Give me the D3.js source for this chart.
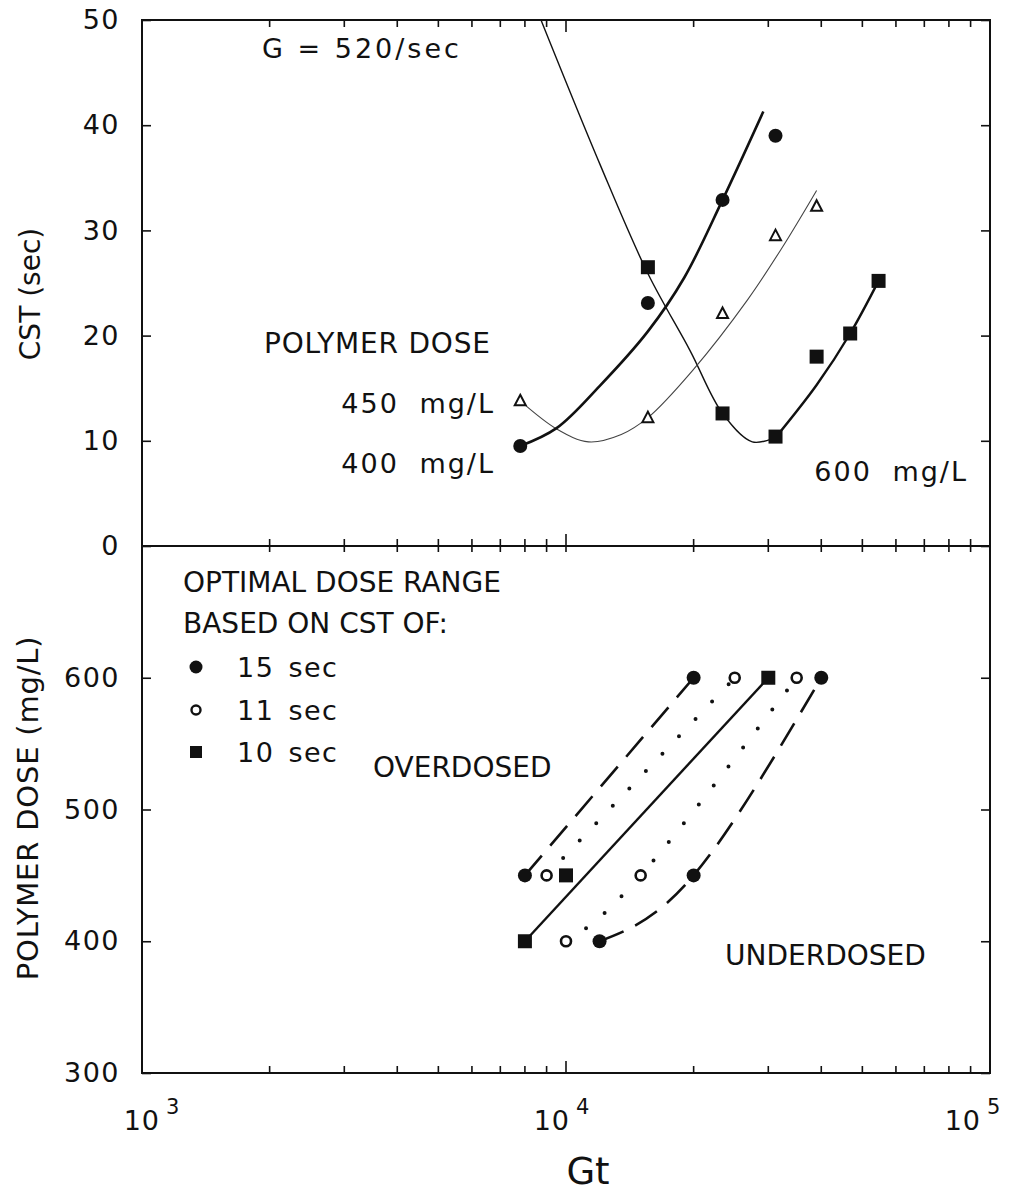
<!DOCTYPE html>
<html>
<head>
<meta charset="utf-8">
<script src="https://cdn.jsdelivr.net/npm/d3@7"></script>
<style>
  body { margin: 0; background: #fff; }
  text { font-family: "DejaVu Sans", sans-serif; fill: #111; }
</style>
</head>
<body>
<div id="chart"></div>
<script>
// ---- top panel: CST vs Gt at G = 520/sec, one series per polymer dose
var gt400 = [7800, 15600, 23400, 31200],
    cst400 = [9.5, 23.1, 32.9, 39.0];
var gt450 = [7800, 15600, 23400, 31200, 39000],
    cst450 = [13.8, 12.2, 22.1, 29.5, 32.3];
var gt600 = [15600, 23400, 31200, 39000, 46800, 54600],
    cst600 = [26.5, 12.6, 10.4, 18.0, 20.2, 25.2];

// fitted curves
var fitGt400 = [7800, 9500, 12000, 15600, 19000, 23400, 29200],
    fitCst400 = [9.5, 11.2, 15.2, 20.4, 25.5, 32.9, 41.3];
var fitGt450 = [7800, 9530, 11300, 13500, 15600, 19900, 26800, 32500, 39000],
    fitCst450 = [13.8, 11.1, 9.9, 10.6, 12.2, 16.7, 23.4, 28.5, 33.8];
var fitGt600a = [8730, 12020, 15600, 19600, 23400, 27500, 31200],
    fitCst600a = [50, 36.3, 25.9, 18.6, 12.6, 9.9, 10.3];
var fitGt600b = [31200, 39000, 46800, 54600],
    fitCst600b = [10.3, 15.3, 20.2, 25.2];

// ---- bottom panel: optimal dose range for three CST targets
var gt15 = [20000, 40000, 8000, 20000, 12000],
    dose15 = [600, 600, 450, 450, 400];
var gt11 = [25000, 35000, 9000, 15000, 10000],
    dose11 = [600, 600, 450, 450, 400];
var gt10 = [30000, 10000, 8000],
    dose10 = [600, 450, 400];

var loGt15 = [8000, 20000], loDose15 = [450, 600];
var hiGt15 = [12000, 20000, 40000], hiDose15 = [400, 450, 600];
var loGt11 = [9000, 25000], loDose11 = [450, 600];
var hiGt11 = [10000, 15000, 35000], hiDose11 = [400, 450, 600];
var fitGt10 = [8000, 30000], fitDose10 = [400, 600];

var topTicks = [0, 10, 20, 30, 40, 50];
var botTicks = [300, 400, 500, 600];
var legendLabels = ['15 sec', '11 sec', '10 sec'];

// ---- layout
var W = 1032, H = 1195;
var plotL = 142, plotR = 990, plotT = 20, plotM = 546, plotB = 1073;

var svg = d3.select('#chart').append('svg')
  .attr('width', W).attr('height', H);

var x = d3.scaleLog().domain([1e3, 1e5]).range([plotL, plotR]);
var yTop = d3.scaleLinear().domain([0, 50]).range([plotM, plotT]);
var yBot = d3.scaleLinear().domain([300, 700]).range([plotB, plotM]);

// frame
svg.append('rect')
  .attr('x', plotL).attr('y', plotT)
  .attr('width', plotR - plotL).attr('height', plotB - plotT)
  .attr('fill', 'none').attr('stroke', '#111').attr('stroke-width', 2);
svg.append('line')
  .attr('x1', plotL).attr('x2', plotR).attr('y1', plotM).attr('y2', plotM)
  .attr('stroke', '#111').attr('stroke-width', 2);

// x ticks (minor + major) on top, middle and bottom lines
var xt = x.ticks();
function isMajor(d) { return Math.abs(Math.log10(d) - Math.round(Math.log10(d))) < 1e-9; }
var tk = svg.append('g').attr('stroke', '#111').attr('stroke-width', 1.6);
xt.forEach(function(d) {
  var len = isMajor(d) ? 12 : 7;
  tk.append('line').attr('x1', x(d)).attr('x2', x(d)).attr('y1', plotT).attr('y2', plotT + len);
  tk.append('line').attr('x1', x(d)).attr('x2', x(d)).attr('y1', plotM - len).attr('y2', plotM + 6);
  tk.append('line').attr('x1', x(d)).attr('x2', x(d)).attr('y1', plotB).attr('y2', plotB - len);
});

// y axes
function yAxis(scale, vals) {
  var g = svg.append('g').attr('transform', 'translate(' + plotL + ',0)')
    .call(d3.axisLeft(scale).tickValues(vals).tickSizeInner(-9).tickSizeOuter(0).tickPadding(22));
  g.select('.domain').remove();
  g.selectAll('line').attr('stroke', '#111').attr('stroke-width', 1.6);
  g.selectAll('text').attr('font-size', 27).attr('letter-spacing', 1.5)
    .style('font-family', '"DejaVu Sans", sans-serif').attr('fill', '#111');
  var r = svg.append('g').attr('transform', 'translate(' + plotR + ',0)')
    .call(d3.axisRight(scale).tickValues(vals).tickSizeInner(-9).tickSizeOuter(0).tickFormat(''));
  r.select('.domain').remove();
  r.selectAll('line').attr('stroke', '#111').attr('stroke-width', 1.6);
}
yAxis(yTop, topTicks);
yAxis(yBot, botTicks);

// x tick labels 10^n
var expo = [3, 4, 5], shift = [10, -4, -17];
expo.forEach(function(e, i) {
  var t = svg.append('text')
    .attr('x', x(Math.pow(10, e)) + shift[i]).attr('y', 1130)
    .attr('text-anchor', 'middle').attr('font-size', 27).attr('letter-spacing', 1);
  t.append('tspan').text('10');
  t.append('tspan').attr('dx', 6).attr('dy', -16).attr('font-size', 21).text(e);
});

// axis titles
svg.append('text').attr('x', 588).attr('y', 1184).attr('text-anchor', 'middle')
  .attr('font-size', 37).text('Gt');
svg.append('text').attr('transform', 'translate(40,294) rotate(-90)')
  .attr('text-anchor', 'middle').attr('font-size', 28).text('CST (sec)');
svg.append('text').attr('transform', 'translate(38,808) rotate(-90)')
  .attr('text-anchor', 'middle').attr('font-size', 29).attr('letter-spacing', 0.8)
  .text('POLYMER DOSE (mg/L)');

// ---- top panel marks
var lineTop = d3.line().x(function(d) { return x(d[0]); }).y(function(d) { return yTop(d[1]); })
  .curve(d3.curveCatmullRom.alpha(0.5));
var gTop = svg.append('g');
gTop.append('path').datum(d3.zip(fitGt600a, fitCst600a)).attr('d', lineTop)
  .attr('fill', 'none').attr('stroke', '#111').attr('stroke-width', 1.4);
gTop.append('path').datum(d3.zip(fitGt600b, fitCst600b)).attr('d', lineTop)
  .attr('fill', 'none').attr('stroke', '#111').attr('stroke-width', 2.4);
gTop.append('path').datum(d3.zip(fitGt450, fitCst450)).attr('d', lineTop)
  .attr('fill', 'none').attr('stroke', '#444').attr('stroke-width', 1.1);
gTop.append('path').datum(d3.zip(fitGt400, fitCst400)).attr('d', lineTop)
  .attr('fill', 'none').attr('stroke', '#111').attr('stroke-width', 2.6);

gTop.selectAll('.c400').data(d3.zip(gt400, cst400)).enter().append('circle')
  .attr('cx', function(d) { return x(d[0]); }).attr('cy', function(d) { return yTop(d[1]); })
  .attr('r', 7).attr('fill', '#111');
gTop.selectAll('.t450').data(d3.zip(gt450, cst450)).enter().append('path')
  .attr('transform', function(d) { return 'translate(' + x(d[0]) + ',' + yTop(d[1]) + ')'; })
  .attr('d', 'M0,-6L5.5,4.5L-5.5,4.5Z')
  .attr('fill', '#fff').attr('stroke', '#111').attr('stroke-width', 2);
gTop.selectAll('.s600').data(d3.zip(gt600, cst600)).enter().append('rect')
  .attr('x', function(d) { return x(d[0]) - 7; }).attr('y', function(d) { return yTop(d[1]) - 7; })
  .attr('width', 14).attr('height', 14).attr('fill', '#111');

svg.append('text').attr('x', 262).attr('y', 58).attr('font-size', 27).attr('letter-spacing', 3)
  .text('G = 520/sec');
svg.append('text').attr('x', 264).attr('y', 353).attr('font-size', 28).attr('letter-spacing', 0.8)
  .text('POLYMER DOSE');
svg.append('text').attr('x', 495).attr('y', 413).attr('text-anchor', 'end')
  .attr('font-size', 27).attr('letter-spacing', 2).attr('word-spacing', 10).text('450 mg/L');
svg.append('text').attr('x', 495).attr('y', 473).attr('text-anchor', 'end')
  .attr('font-size', 27).attr('letter-spacing', 2).attr('word-spacing', 10).text('400 mg/L');
svg.append('text').attr('x', 968).attr('y', 481).attr('text-anchor', 'end')
  .attr('font-size', 27).attr('letter-spacing', 2).attr('word-spacing', 10).text('600 mg/L');

// ---- bottom panel marks
var lineBot = d3.line().x(function(d) { return x(d[0]); }).y(function(d) { return yBot(d[1]); })
  .curve(d3.curveNatural);
var gBot = svg.append('g').attr('fill', 'none').attr('stroke', '#111');
gBot.append('path').datum(d3.zip(loGt15, loDose15)).attr('d', lineBot)
  .attr('stroke-width', 2.6).attr('stroke-dasharray', '26,13');
gBot.append('path').datum(d3.zip(hiGt15, hiDose15)).attr('d', lineBot)
  .attr('stroke-width', 2.6).attr('stroke-dasharray', '26,13');
gBot.append('path').datum(d3.zip(loGt11, loDose11)).attr('d', lineBot)
  .attr('stroke-width', 4).attr('stroke-linecap', 'round').attr('stroke-dasharray', '0,24');
gBot.append('path').datum(d3.zip(hiGt11, hiDose11)).attr('d', lineBot)
  .attr('stroke-width', 4).attr('stroke-linecap', 'round').attr('stroke-dasharray', '0,24');
gBot.append('path').datum(d3.zip(fitGt10, fitDose10)).attr('d', lineBot)
  .attr('stroke-width', 2.4);

var gm = svg.append('g');
gm.selectAll('.f15').data(d3.zip(gt15, dose15)).enter().append('circle')
  .attr('cx', function(d) { return x(d[0]); }).attr('cy', function(d) { return yBot(d[1]); })
  .attr('r', 7).attr('fill', '#111');
gm.selectAll('.o11').data(d3.zip(gt11, dose11)).enter().append('circle')
  .attr('cx', function(d) { return x(d[0]); }).attr('cy', function(d) { return yBot(d[1]); })
  .attr('r', 5).attr('fill', '#fff').attr('stroke', '#111').attr('stroke-width', 2.6);
gm.selectAll('.s10').data(d3.zip(gt10, dose10)).enter().append('rect')
  .attr('x', function(d) { return x(d[0]) - 7; }).attr('y', function(d) { return yBot(d[1]) - 7; })
  .attr('width', 14).attr('height', 14).attr('fill', '#111');

// legend
svg.append('text').attr('x', 183).attr('y', 592).attr('font-size', 28).text('OPTIMAL DOSE RANGE');
svg.append('text').attr('x', 183).attr('y', 633).attr('font-size', 28).text('BASED ON CST OF:');
var lg = svg.append('g');
var ly = [667, 710, 752];
lg.append('circle').attr('cx', 196).attr('cy', ly[0]).attr('r', 6.5).attr('fill', '#111');
lg.append('circle').attr('cx', 196).attr('cy', ly[1]).attr('r', 4.5)
  .attr('fill', '#fff').attr('stroke', '#111').attr('stroke-width', 2.4);
lg.append('rect').attr('x', 190).attr('y', ly[2] - 6).attr('width', 12).attr('height', 12).attr('fill', '#111');
legendLabels.forEach(function(s, i) {
  lg.append('text').attr('x', 237).attr('y', ly[i] + 10).attr('font-size', 27)
    .attr('letter-spacing', 1.5).attr('word-spacing', 4).text(s);
});

svg.append('text').attr('x', 373).attr('y', 777).attr('font-size', 28).text('OVERDOSED');
svg.append('text').attr('x', 725).attr('y', 965).attr('font-size', 28).text('UNDERDOSED');
</script>
</body>
</html>
